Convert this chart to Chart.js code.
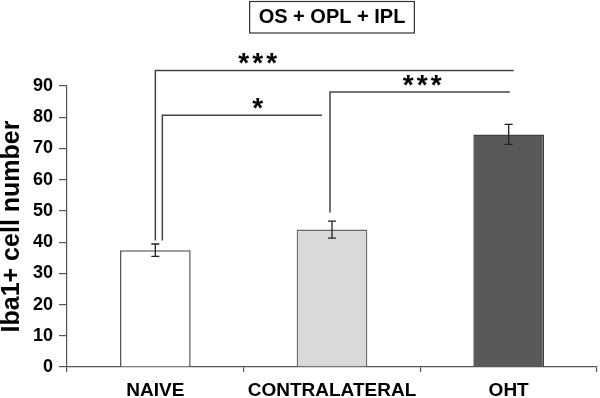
<!DOCTYPE html>
<html>
<head>
<meta charset="utf-8">
<script src="https://cdn.jsdelivr.net/npm/chart.js@4/dist/chart.umd.min.js"></script>
<style>
html, body { margin: 0; padding: 0; background: #fff; }
#wrap { width: 600px; height: 398px; position: relative; }
</style>
</head>
<body>
<div id="wrap"><canvas id="graphIba1"></canvas></div>
<script>
var categories = ["NAIVE", "CONTRALATERAL", "OHT"];
var cellMeans = [37.4, 44.0, 74.5];
var cellErrors = [2.0, 2.7, 3.2];
var yTickValues = [0, 10, 20, 30, 40, 50, 60, 70, 80, 90];

// significance brackets (levels in y units, labelAt in category index)
var bracketFrom = [0, 0, 1];
var bracketTo = [2, 1, 2];
var bracketLevel = [95.0, 80.6, 88.1];
var bracketLegEnd = [40.5, 40.5, 49.5];
var bracketLabel = ["***", "*", "***"];
var bracketLabelAt = [0.58, 0.58, 1.51];

var FONT = "Arial, 'Liberation Sans', Helvetica, sans-serif";

var errorBarsPlugin = {
    id: 'errorBars',
    afterDatasetsDraw: function(chart){
        var ctx = chart.ctx;
        var y = chart.scales.y;
        var meta = chart.getDatasetMeta(0);
        ctx.save();
        ctx.strokeStyle = '#222';
        ctx.lineWidth = 1.3;
        meta.data.forEach(function(bar, i){
            var top = y.getPixelForValue(cellMeans[i] + cellErrors[i]);
            var bottom = y.getPixelForValue(cellMeans[i] - cellErrors[i]);
            ctx.beginPath();
            ctx.moveTo(bar.x, top);
            ctx.lineTo(bar.x, bottom);
            ctx.moveTo(bar.x - 4, top);
            ctx.lineTo(bar.x + 4, top);
            ctx.moveTo(bar.x - 4, bottom);
            ctx.lineTo(bar.x + 4, bottom);
            ctx.stroke();
        });
        ctx.restore();
    }
};

var bracketShift = [[0, 5], [7, -10], [-2, 1]];

var bracketsPlugin = {
    id: 'brackets',
    afterDraw: function(chart){
        var ctx = chart.ctx;
        var x = chart.scales.x;
        var y = chart.scales.y;
        var step = x.getPixelForValue(1) - x.getPixelForValue(0);
        ctx.save();
        ctx.strokeStyle = '#444';
        ctx.lineWidth = 1.5;
        ctx.fillStyle = '#000';
        ctx.font = 'bold 28px ' + FONT;
        ctx.textAlign = 'center';
        ctx.textBaseline = 'alphabetic';
        bracketLevel.forEach(function(level, i){
            var x1 = x.getPixelForValue(bracketFrom[i]) + bracketShift[i][0];
            var x2 = x.getPixelForValue(bracketTo[i]) + bracketShift[i][1];
            var yl = y.getPixelForValue(level);
            ctx.beginPath();
            ctx.moveTo(x1, y.getPixelForValue(bracketLegEnd[i]));
            ctx.lineTo(x1, yl);
            ctx.lineTo(x2, yl);
            ctx.stroke();
            var lx = x.getPixelForValue(0) + bracketLabelAt[i] * step;
            var n = bracketLabel[i].length;
            for (var k = 0; k < n; k++) {
                ctx.fillText('*', lx + (k - (n - 1) / 2) * 14, yl + 2);
            }
        });
        ctx.restore();
    }
};

var titleBoxPlugin = {
    id: 'titleBox',
    afterDraw: function(chart){
        var tb = chart.titleBlock;
        var ctx = chart.ctx;
        ctx.save();
        ctx.font = 'bold 20px ' + FONT;
        var w = ctx.measureText(tb.options.text).width;
        var cx = (tb.left + tb.right) / 2;
        ctx.strokeStyle = '#333';
        ctx.lineWidth = 1.2;
        ctx.strokeRect(cx - w / 2 - 9, 1.5, w + 18, 31.5);
        ctx.restore();
    }
};

var chartConfig = {
    type: 'bar',
    data: {
        labels: categories,
        datasets: [{
            data: cellMeans,
            backgroundColor: ['#ffffff', '#d9d9d9', '#595959'],
            borderColor: ['#555555', '#6a6a6a', '#404040'],
            borderWidth: 1.5,
            categoryPercentage: 1.0,
            barPercentage: 0.4
        }]
    },
    options: {
        responsive: true,
        maintainAspectRatio: false,
        animation: false,
        layout: { padding: { top: 0, right: 3, left: 0, bottom: 0 } },
        plugins: {
            legend: { display: false },
            tooltip: { enabled: false },
            title: {
                display: true,
                text: 'OS + OPL + IPL',
                fullSize: false,
                color: '#000',
                font: { family: FONT, size: 20, weight: 'bold', lineHeight: 1.2 },
                padding: { top: 5, bottom: 57 }
            }
        },
        scales: {
            x: {
                ticks: { color: '#000', font: { family: FONT, size: 19, weight: 'bold' }, padding: 7, maxRotation: 0, autoSkip: false },
                grid: { drawOnChartArea: false, offset: true, tickLength: 5, color: '#555', lineWidth: 1.2 },
                border: { color: '#555', width: 1.2 },
                afterFit: function(s){ s.height = 31; }
            },
            y: {
                min: 0,
                max: 90,
                afterBuildTicks: function(s){ s.ticks = yTickValues.map(function(v){ return { value: v }; }); },
                ticks: { color: '#000', font: { family: FONT, size: 18, weight: 'bold' }, padding: 6 },
                grid: { drawOnChartArea: false, tickLength: 8, color: '#555', lineWidth: 1.2 },
                border: { color: '#555', width: 1.2 },
                title: {
                    display: true,
                    text: 'Iba1+ cell number',
                    color: '#000',
                    font: { family: FONT, size: 25, weight: 'bold', lineHeight: 1 },
                    padding: 0
                },
                afterFit: function(s){ s.width = 67; }
            }
        }
    },
    plugins: [errorBarsPlugin, bracketsPlugin, titleBoxPlugin]
};

var chartIba1 = new Chart(document.getElementById('graphIba1').getContext('2d'), chartConfig);
</script>
</body>
</html>
